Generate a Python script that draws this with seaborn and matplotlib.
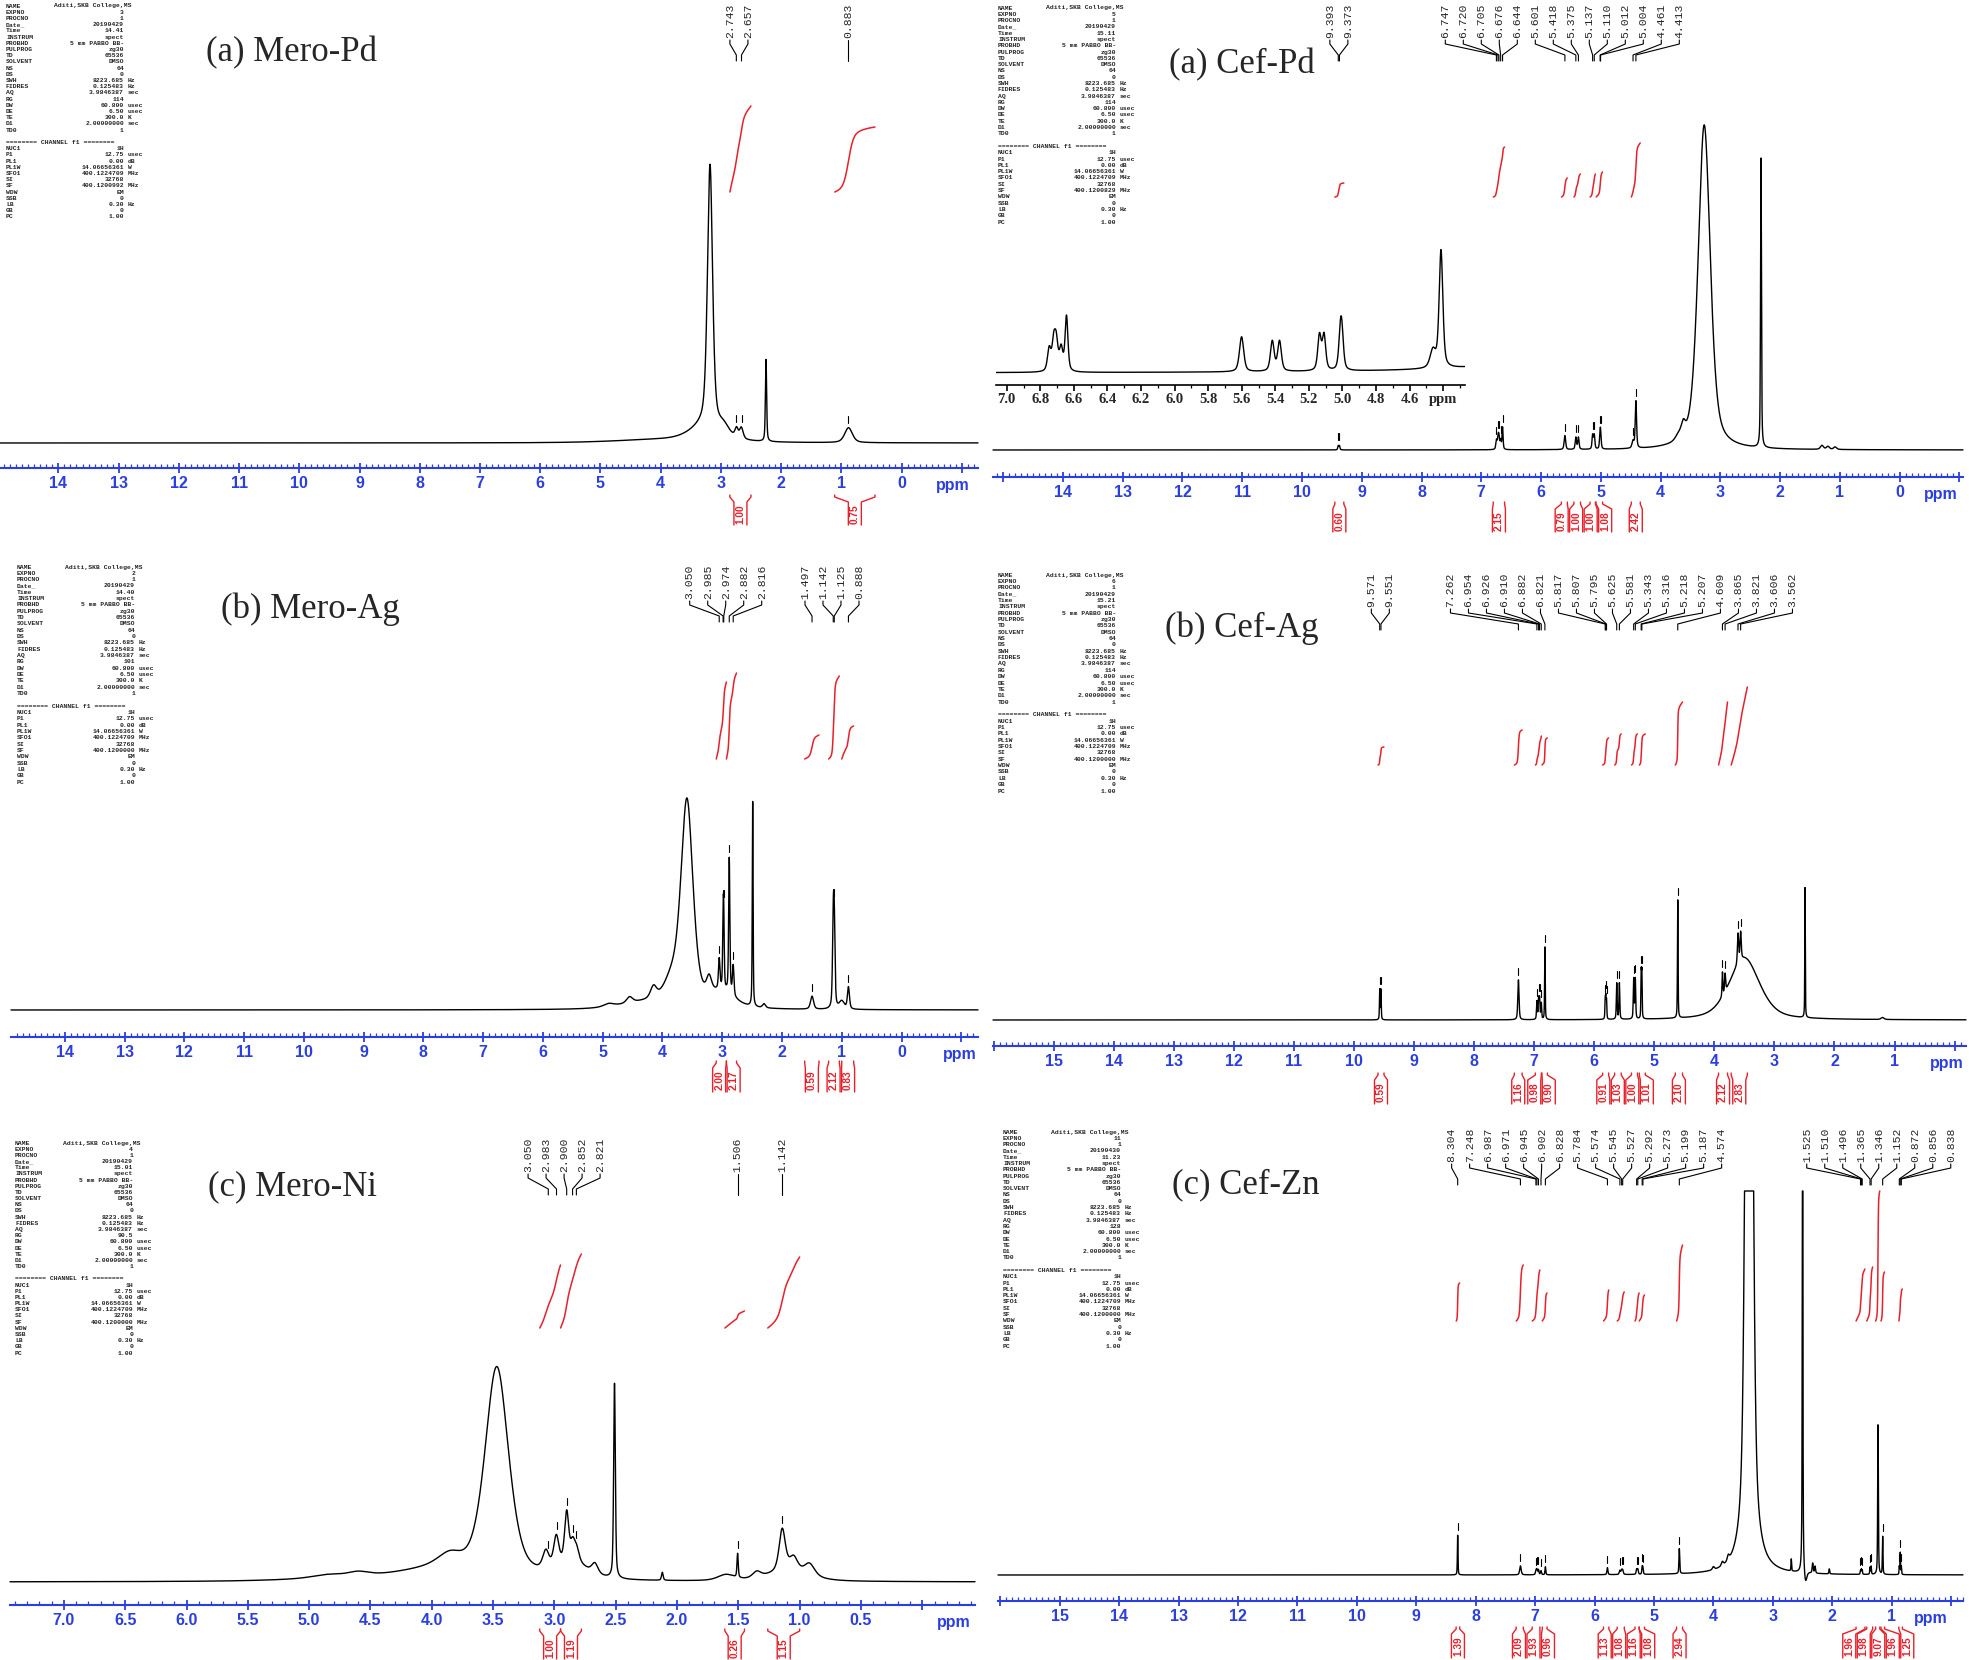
import numpy as np
import matplotlib
matplotlib.use("Agg")
import matplotlib.pyplot as plt
import seaborn as sns
from matplotlib.transforms import Affine2D, blended_transform_factory

# ---------------------------------------------------------------------------
# peak tables: centre (ppm), height (a.u.), half width (ppm)
# ---------------------------------------------------------------------------
MERO_PD_PPM = [3.18, 3.25, 2.95, 2.74, 2.66, 2.25, 0.88, 4.00]
MERO_PD_HT = [262, 15, 8, 9, 11, 82, 15, 3]
MERO_PD_HW = [0.05, 0.30, 0.10, 0.03, 0.035, 0.012, 0.075, 0.90]
MERO_PD_LABELS = [2.743, 2.657, 0.883]
MERO_PD_INT_FROM = [2.85, 1.11]
MERO_PD_INT_TO = [2.50, 0.44]
MERO_PD_INT_VAL = ["1.00", "0.75"]

CEF_PD_PPM = [9.393, 9.373, 6.747, 6.720, 6.705, 6.676, 6.644, 5.601, 5.418, 5.375,
              5.137, 5.110, 5.012, 5.004, 4.461, 4.413, 3.27, 3.62, 3.70, 2.32,
              1.30, 1.20, 1.08]
CEF_PD_HT = [4, 4, 9, 11, 11, 9, 22, 14, 12, 12, 14, 14, 12, 12, 7, 47, 325, 12, 5, 290,
             4, 3, 2.5]
CEF_PD_HW = [0.01, 0.01, 0.012, 0.012, 0.012, 0.012, 0.01, 0.015, 0.013, 0.013,
             0.012, 0.012, 0.012, 0.012, 0.02, 0.013, 0.12, 0.04, 0.06, 0.009,
             0.03, 0.03, 0.03]
CEF_PD_LABELS = [9.393, 9.373, 6.747, 6.720, 6.705, 6.676, 6.644, 5.601, 5.418, 5.375,
                 5.137, 5.110, 5.012, 5.004, 4.461, 4.413]
CEF_PD_INT_FROM = [9.45, 6.80, 5.66, 5.45, 5.18, 5.08, 4.49]
CEF_PD_INT_TO = [9.30, 6.61, 5.56, 5.34, 5.09, 4.97, 4.34]
CEF_PD_INT_VAL = ["0.60", "2.15", "0.79", "1.00", "1.00", "1.08", "2.42"]

MERO_AG_PPM = [3.59, 3.85, 4.15, 4.55, 4.90, 4.30, 3.22, 3.050, 2.985, 2.974, 2.882,
               2.816, 3.00, 2.49, 2.30, 1.497, 1.142, 1.125, 1.00, 0.888]
MERO_AG_HT = [205, 20, 12, 6, 3, 6, 16, 30, 60, 60, 135, 30, 15, 205, 4, 13, 76, 76, 8, 22]
MERO_AG_HW = [0.12, 0.15, 0.06, 0.06, 0.10, 0.50, 0.05, 0.015, 0.010, 0.010, 0.012,
              0.015, 0.25, 0.008, 0.03, 0.03, 0.015, 0.015, 0.05, 0.02]
MERO_AG_LABELS = [3.050, 2.985, 2.974, 2.882, 2.816, 1.497, 1.142, 1.125, 0.888]
MERO_AG_INT_FROM = [3.10, 2.93, 1.62, 1.22, 1.00]
MERO_AG_INT_TO = [2.93, 2.76, 1.38, 1.04, 0.80]
MERO_AG_INT_VAL = ["2.00", "2.17", "0.59", "2.12", "0.83"]

CEF_AG_PPM = [9.571, 9.551, 7.262, 6.954, 6.926, 6.910, 6.882, 6.821, 5.817, 5.807,
              5.795, 5.625, 5.581, 5.343, 5.316, 5.218, 5.207, 4.609, 3.865, 3.821,
              3.606, 3.562, 3.50, 2.49, 1.20]
CEF_AG_HT = [30, 30, 40, 18, 20, 20, 16, 73, 18, 20, 18, 36, 36, 40, 40, 44, 44, 118,
             24, 18, 30, 28, 62, 130, 2]
CEF_AG_HW = [0.006, 0.006, 0.012, 0.008, 0.008, 0.008, 0.008, 0.006, 0.006, 0.006,
             0.006, 0.008, 0.008, 0.008, 0.008, 0.006, 0.006, 0.006, 0.008, 0.010,
             0.012, 0.012, 0.30, 0.005, 0.03]
CEF_AG_LABELS = [9.571, 9.551, 7.262, 6.954, 6.926, 6.910, 6.882, 6.821, 5.817, 5.807,
                 5.795, 5.625, 5.581, 5.343, 5.316, 5.218, 5.207, 4.609, 3.865, 3.821,
                 3.606, 3.562]
CEF_AG_INT_FROM = [9.60, 7.33, 6.98, 6.87, 5.86, 5.66, 5.38, 5.25, 4.65, 3.93, 3.72]
CEF_AG_INT_TO = [9.50, 7.20, 6.88, 6.78, 5.76, 5.55, 5.28, 5.15, 4.53, 3.78, 3.45]
CEF_AG_INT_VAL = ["0.59", "1.16", "0.98", "0.90", "0.91", "1.03", "1.00", "1.01",
                  "2.10", "2.12", "2.83"]

MERO_NI_PPM = [3.47, 3.85, 4.00, 4.60, 4.85, 4.50, 3.07, 2.985, 2.900, 2.852, 2.821,
               2.85, 2.67, 2.51, 2.12, 1.506, 1.60, 1.35, 1.142, 1.05, 0.92, 1.10]
MERO_NI_HT = [212, 14, 8, 4, 3, 4, 18, 30, 50, 16, 14, 15, 10, 195, 8, 24, 6, 6, 42, 14,
              12, 10]
MERO_NI_HW = [0.115, 0.12, 0.30, 0.10, 0.15, 0.60, 0.03, 0.025, 0.02, 0.02, 0.025,
              0.15, 0.03, 0.008, 0.008, 0.006, 0.08, 0.04, 0.03, 0.04, 0.05, 0.20]
MERO_NI_LABELS = [3.050, 2.983, 2.900, 2.852, 2.821, 1.506, 1.142]
MERO_NI_INT_FROM = [3.12, 2.95, 1.61, 1.26]
MERO_NI_INT_TO = [2.95, 2.78, 1.45, 1.00]
MERO_NI_INT_VAL = ["1.00", "1.19", "0.26", "1.15"]

CEF_ZN_PPM = [8.304, 7.248, 6.987, 6.971, 6.945, 6.902, 6.828, 5.784, 5.574, 5.545,
              5.527, 5.292, 5.273, 5.199, 5.187, 4.574, 4.00, 3.85, 3.75, 3.40, 2.69,
              2.50, 2.45, 2.33, 2.29, 2.05, 1.525, 1.510, 1.496, 1.365, 1.346, 1.23,
              1.152, 0.872, 0.856, 0.838]
CEF_ZN_HT = [40, 9, 4, 5, 5, 4, 8, 7, 4, 4, 4, 5, 5, 7, 6, 25, 3, 4, 5, 1300, 12, 1500,
             -12, 10, 7, 5, 4, 5, 4, 7, 8, 150, 38, 8, 22, 8]
CEF_ZN_HW = [0.006, 0.015, 0.01, 0.01, 0.01, 0.01, 0.008, 0.01, 0.012, 0.012, 0.012,
             0.01, 0.01, 0.008, 0.008, 0.008, 0.02, 0.02, 0.02, 0.055, 0.006, 0.004,
             0.025, 0.01, 0.01, 0.008, 0.006, 0.006, 0.006, 0.006, 0.006, 0.007,
             0.006, 0.005, 0.005, 0.005]
CEF_ZN_LABELS = [8.304, 7.248, 6.987, 6.971, 6.945, 6.902, 6.828, 5.784, 5.574, 5.545,
                 5.527, 5.292, 5.273, 5.199, 5.187, 4.574, 1.525, 1.510, 1.496, 1.365,
                 1.346, 1.152, 0.872, 0.856, 0.838]
CEF_ZN_INT_FROM = [8.33, 7.32, 7.05, 6.88, 5.85, 5.62, 5.32, 5.25, 4.62, 1.60, 1.42,
                   1.27, 1.18, 0.88]
CEF_ZN_INT_TO = [8.27, 7.20, 6.92, 6.80, 5.76, 5.50, 5.25, 5.16, 4.52, 1.45, 1.32,
                 1.20, 1.12, 0.82]
CEF_ZN_INT_VAL = ["1.39", "2.09", "1.93", "0.96", "1.13", "1.08", "1.16", "1.08",
                  "2.94", "1.96", "1.98", "9.07", "1.96", "1.25"]

# acquisition parameters that differ between the runs
EXPNO = ["3", "5", "2", "6", "4", "11"]
DATES = ["20190429", "20190429", "20190429", "20190429", "20190429", "20190430"]
TIMES = ["14.41", "15.11", "14.40", "15.21", "15.01", "11.23"]
RGAIN = ["114", "114", "101", "114", "90.5", "128"]
SFREQ = ["400.1200992", "400.1200829", "400.1200000", "400.1200000", "400.1200000",
         "400.1200000"]

# ---------------------------------------------------------------------------
W, H = 1969, 1660
BLUE = "#2b3fe0"
RED = "#e8202a"
ETA = 0.5

sns.set_theme(style="white")
plt.rcParams['font.family'] = ['Liberation Sans', 'DejaVu Sans']

fig = plt.figure(figsize=(W / 100, H / 100), dpi=100)
fig.patch.set_facecolor("white")
PX = Affine2D().scale(1.0 / W, -1.0 / H).translate(0, 1) + fig.transFigure


def lineshape(x, c, h, w):
    t = ((x - c) / w) ** 2
    return h * (ETA / (1 + t) + (1 - ETA) * np.exp(-np.log(2) * t))


def spread(targets, d):
    order = np.argsort(targets)[::-1]
    clusters = [[targets[i]] for i in order]

    def lay(cl):
        m, n = np.mean(cl), len(cl)
        return [m + ((n - 1) / 2 - k) * d for k in range(n)]

    changed = True
    while changed:
        changed = False
        for i in range(len(clusters) - 1):
            if lay(clusters[i])[-1] - lay(clusters[i + 1])[0] < d - 1e-9:
                clusters[i] = clusters[i] + clusters.pop(i + 1)
                changed = True
                break
    flat = [p for cl in clusters for p in lay(cl)]
    out = np.empty(len(targets))
    out[order] = flat
    return out


def param_block(x0, y0, y1, i):
    lines = [("NAME", "", ""), ("EXPNO", EXPNO[i], ""), ("PROCNO", "1", ""),
             ("Date_", DATES[i], ""), ("Time", TIMES[i], ""), ("INSTRUM", "spect", ""),
             ("PROBHD", "5 mm PABBO BB-", ""), ("PULPROG", "zg30", ""),
             ("TD", "65536", ""), ("SOLVENT", "DMSO", ""), ("NS", "64", ""),
             ("DS", "0", ""), ("SWH", "8223.685", "Hz"), ("FIDRES", "0.125483", "Hz"),
             ("AQ", "3.9846387", "sec"), ("RG", RGAIN[i], ""), ("DW", "60.800", "usec"),
             ("DE", "6.50", "usec"), ("TE", "300.0", "K"), ("D1", "2.00000000", "sec"),
             ("TD0", "1", ""), ("", "", ""), ("======== CHANNEL f1 ========", "", ""),
             ("NUC1", "1H", ""), ("P1", "12.75", "usec"), ("PL1", "0.00", "dB"),
             ("PL1W", "14.06656361", "W"), ("SFO1", "400.1224709", "MHz"),
             ("SI", "32768", ""), ("SF", SFREQ[i], "MHz"), ("WDW", "EM", ""),
             ("SSB", "0", ""), ("LB", "0.30", "Hz"), ("GB", "0", ""), ("PC", "1.00", "")]
    step = (y1 - y0) / (len(lines) - 1)
    kw = dict(transform=PX, fontsize=4.6, family="Liberation Mono", fontweight="bold",
              va="center")
    for k, (name, val, unit) in enumerate(lines):
        y = y0 + k * step
        fig.text(x0, y, name, ha="left", **kw)
        if k == 0:
            fig.text(x0 + 48, y, "Aditi,SKB College,MS", ha="left", **kw)
        if val:
            fig.text(x0 + 118, y, val, ha="right", **kw)
        if unit:
            fig.text(x0 + 122, y, unit, ha="left", **kw)


def draw_panel(P, L, idx):
    ppm = np.linspace(L["ppm_l"], L["ppm_r"], 14000)
    spec = np.zeros_like(ppm)
    for c, h, w in zip(P["ppm"], P["ht"], P["hw"]):
        spec += lineshape(ppm, c, h, w)
    ytop = L["base"] - L["top"]
    ax = fig.add_axes([L["x0"] / W, 1 - L["axis"] / H, (L["x1"] - L["x0"]) / W,
                       (L["axis"] - L["top"]) / H])
    ax.set_facecolor("none")
    sns.lineplot(x=ppm, y=np.minimum(spec, ytop), ax=ax, color="black", linewidth=1.0,
                 sort=False, estimator=None, clip_on=False)
    ax.set_xlim(L["ppm_l"], L["ppm_r"])
    ax.set_ylim(-(L["axis"] - L["base"]), ytop)
    ppx = (L["x1"] - L["x0"]) / (L["ppm_l"] - L["ppm_r"])

    # blue ppm axis
    for s in ["top", "left", "right"]:
        ax.spines[s].set_visible(False)
    ax.spines["bottom"].set_color(BLUE)
    ax.spines["bottom"].set_linewidth(1.5)
    mj, mn = L["major"], 0.1
    majors = np.arange(np.ceil(L["ppm_r"] / mj) * mj, L["ppm_l"], mj)
    labs = [L["fmt"].format(m) if L["lab_lo"] - 1e-6 <= m <= L["lab_hi"] + 1e-6 else ""
            for m in majors]
    ax.set_xticks(majors, labs, fontweight="bold", color=BLUE, fontsize=11.5)
    ax.set_xticks(np.arange(np.ceil(L["ppm_r"] / mn) * mn, L["ppm_l"], mn), minor=True)
    ax.tick_params(axis="x", which="major", direction="inout", length=7, width=1.3,
                   color=BLUE, pad=2.5, bottom=True)
    ax.tick_params(axis="x", which="minor", direction="in", length=3, width=0.9,
                   color=BLUE, bottom=True)
    ax.set_yticks([])
    ax.set_xlabel("")
    ax.set_ylabel("")
    bt = blended_transform_factory(ax.transData, PX)
    ax.text(L["ppm_at"], L["axis"] + 17, "ppm", transform=bt, ha="center", va="center",
            color=BLUE, fontsize=11.5, fontweight="bold")

    # peak labels with connectors
    lab = np.array(P["labels"])
    lpos = spread(lab, 18.0 / ppx)
    lb = L["lab_bot"]
    rev = ppm[::-1]
    for v, lp in zip(lab, lpos):
        ax.text(lp, lb, f"{v:.3f}", transform=bt, rotation=90, ha="center",
                va="bottom", fontsize=8.2, family="Liberation Mono", clip_on=False)
        ax.plot([lp, lp, v, v], [lb + 2, lb + 6, lb + 17, lb + 23], transform=bt,
                color="black", lw=0.8, clip_on=False)
        yv = np.interp(v, rev, spec[::-1])
        ax.plot([v, v], [min(yv + 5, ytop), min(yv + 12, ytop)], color="black", lw=0.8,
                clip_on=False)

    # integral curves
    ib = L["int_bot"]
    for a, b, tt in zip(P["ifrom"], P["ito"], L["int_top"]):
        m = (ppm <= a) & (ppm >= b)
        cum = np.cumsum(np.clip(spec[m], 0, None))
        cum = (cum - cum[0]) / (cum[-1] - cum[0])
        ax.plot(ppm[m], (L["base"] - ib) + cum * (ib - tt), color=RED, lw=1.1,
                clip_on=False)

    # integral value boxes below the axis
    b0, b1 = L["box"]
    fr, to = np.array(P["ifrom"]), np.array(P["ito"])
    cen = spread((fr + to) / 2, 14.5 / ppx)
    hb = 6.5 / ppx
    for a, b, c, val in zip(fr, to, cen, P["ival"]):
        ax.plot([a, a, c + hb, c + hb], [b0, b0 + 2, b0 + 7, b1], transform=bt,
                color=RED, lw=1.0, clip_on=False)
        ax.plot([b, b, c - hb, c - hb], [b0, b0 + 2, b0 + 7, b1], transform=bt,
                color=RED, lw=1.0, clip_on=False)
        ax.text(c, (b0 + 7 + b1) / 2 + 0.5, val, transform=bt, rotation=90, ha="center",
                va="center", color=RED, fontsize=7.3, fontweight="bold", clip_on=False)

    fig.text(L["title_xy"][0], L["title_xy"][1], L["title"], transform=PX, ha="left",
             va="center", fontsize=25, family="Liberation Serif")
    param_block(*L["par"], idx)
    return ppm, spec


PANELS = [
    (dict(ppm=MERO_PD_PPM, ht=MERO_PD_HT, hw=MERO_PD_HW, labels=MERO_PD_LABELS,
          ifrom=MERO_PD_INT_FROM, ito=MERO_PD_INT_TO, ival=MERO_PD_INT_VAL),
     dict(x0=0, x1=978, ppm_l=14.97, ppm_r=-1.27, axis=468, base=443, top=0,
          major=1.0, fmt="{:.0f}", lab_lo=0, lab_hi=14, ppm_at=-0.86,
          lab_bot=38, int_bot=192, int_top=[106, 127], box=(495, 525),
          title="(a) Mero-Pd", title_xy=(206, 53), par=(6, 6, 217))),
    (dict(ppm=CEF_PD_PPM, ht=CEF_PD_HT, hw=CEF_PD_HW, labels=CEF_PD_LABELS,
          ifrom=CEF_PD_INT_FROM, ito=CEF_PD_INT_TO, ival=CEF_PD_INT_VAL),
     dict(x0=993, x1=1963, ppm_l=15.17, ppm_r=-1.06, axis=477, base=450, top=0,
          major=1.0, fmt="{:.0f}", lab_lo=0, lab_hi=14, ppm_at=-0.69,
          lab_bot=38, int_bot=197, int_top=[183, 147, 178, 174, 174, 172, 143],
          box=(502, 532), title="(a) Cef-Pd", title_xy=(1169, 65), par=(998, 8, 222))),
    (dict(ppm=MERO_AG_PPM, ht=MERO_AG_HT, hw=MERO_AG_HW, labels=MERO_AG_LABELS,
          ifrom=MERO_AG_INT_FROM, ito=MERO_AG_INT_TO, ival=MERO_AG_INT_VAL),
     dict(x0=11, x1=978, ppm_l=14.90, ppm_r=-1.28, axis=1037, base=1010, top=560,
          major=1.0, fmt="{:.0f}", lab_lo=0, lab_hi=14, ppm_at=-0.98,
          lab_bot=599, int_bot=759, int_top=[682, 673, 735, 676, 726], box=(1061, 1092),
          title="(b) Mero-Ag", title_xy=(221, 609), par=(17, 567, 782))),
    (dict(ppm=CEF_AG_PPM, ht=CEF_AG_HT, hw=CEF_AG_HW, labels=CEF_AG_LABELS,
          ifrom=CEF_AG_INT_FROM, ito=CEF_AG_INT_TO, ival=CEF_AG_INT_VAL),
     dict(x0=993, x1=1966, ppm_l=16.01, ppm_r=-0.19, axis=1046, base=1020, top=560,
          major=1.0, fmt="{:.0f}", lab_lo=1, lab_hi=15, ppm_at=0.13,
          lab_bot=607, int_bot=765,
          int_top=[747, 730, 736, 738, 738, 734, 734, 734, 702, 702, 687],
          box=(1073, 1104), title="(b) Cef-Ag", title_xy=(1165, 628),
          par=(998, 575, 791))),
    (dict(ppm=MERO_NI_PPM, ht=MERO_NI_HT, hw=MERO_NI_HW, labels=MERO_NI_LABELS,
          ifrom=MERO_NI_INT_FROM, ito=MERO_NI_INT_TO, ival=MERO_NI_INT_VAL),
     dict(x0=10, x1=975, ppm_l=7.44, ppm_r=-0.43, axis=1605, base=1582, top=1120,
          major=0.5, fmt="{:.1f}", lab_lo=0.5, lab_hi=7.0, ppm_at=-0.26,
          lab_bot=1172, int_bot=1328, int_top=[1265, 1254, 1311, 1257],
          box=(1629, 1659), title="(c) Mero-Ni", title_xy=(208, 1187),
          par=(15, 1143, 1353))),
    (dict(ppm=CEF_ZN_PPM, ht=CEF_ZN_HT, hw=CEF_ZN_HW, labels=CEF_ZN_LABELS,
          ifrom=CEF_ZN_INT_FROM, ito=CEF_ZN_INT_TO, ival=CEF_ZN_INT_VAL),
     dict(x0=998, x1=1963, ppm_l=16.04, ppm_r=-0.20, axis=1601, base=1575, top=1191,
          major=1.0, fmt="{:.0f}", lab_lo=1, lab_hi=15, ppm_at=0.34,
          lab_bot=1162, int_bot=1321,
          int_top=[1283, 1265, 1270, 1293, 1290, 1292, 1293, 1295, 1245, 1269, 1267,
                   1191, 1272, 1289],
          box=(1627, 1658), title="(c) Cef-Zn", title_xy=(1172, 1185),
          par=(1003, 1132, 1346))),
]

results = [draw_panel(P, L, i) for i, (P, L) in enumerate(PANELS)]

# expansion of the Cef-Pd aromatic/olefinic region
ppm_pd, spec_pd = results[1]
K = 2.5
ix0, ix1, ibot, itop, ibase = 996, 1465, 385, 235, 373
ins = fig.add_axes([ix0 / W, 1 - ibot / H, (ix1 - ix0) / W, (ibot - itop) / H])
ins.set_facecolor("none")
sel = (ppm_pd <= 7.1) & (ppm_pd >= 4.2)
sns.lineplot(x=ppm_pd[sel], y=spec_pd[sel], ax=ins, color="black", linewidth=1.0,
             sort=False, estimator=None)
ins.set_xlim(7.064, 4.27)
ins.set_ylim(-(ibot - ibase) / K, (ibase - itop) / K)
for s in ["top", "left", "right"]:
    ins.spines[s].set_visible(False)
ins.spines["bottom"].set_color("black")
ins.spines["bottom"].set_linewidth(1.2)
imaj = np.arange(7.0, 4.3, -0.2)
ins.set_xticks(imaj, [f"{m:.1f}" if m > 4.5 else "" for m in imaj], fontweight="bold",
               family="Liberation Serif", fontsize=10.5)
ins.set_xticks(np.arange(7.0, 4.25, -0.1), minor=True)
ins.tick_params(axis="x", which="major", direction="out", length=4, width=1.2,
                color="black", pad=2, bottom=True)
ins.tick_params(axis="x", which="minor", direction="out", length=2.5, width=0.9,
                color="black", bottom=True)
ins.set_yticks([])
ins.set_xlabel("")
ins.set_ylabel("")
ins.text(4.40, ibot + 14, "ppm", transform=blended_transform_factory(ins.transData, PX),
         ha="center", va="center", fontsize=10.5, fontweight="bold",
         family="Liberation Serif")

fig.savefig("out.png", dpi=100, facecolor="white")
